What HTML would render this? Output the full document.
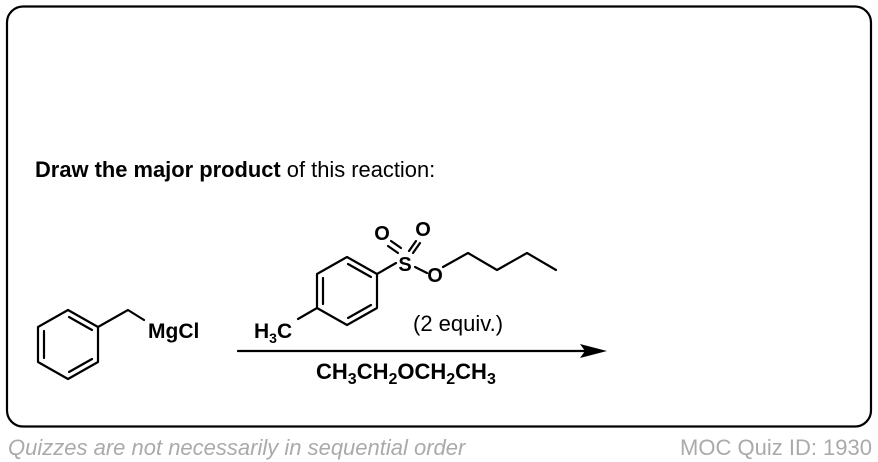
<!DOCTYPE html>
<html><head><meta charset="utf-8"><style>
html,body{margin:0;padding:0;background:#fff;width:878px;height:462px;overflow:hidden}
svg{display:block}
text{font-family:"Liberation Sans",Arial,sans-serif}
</style></head><body>
<svg width="878" height="462" viewBox="0 0 878 462">
<rect x="7" y="6.5" width="864" height="420" rx="16" fill="none" stroke="#000" stroke-width="2.2"/>
<text x="35" y="177" font-size="21.9"><tspan font-weight="bold">Draw the major product</tspan> of this reaction:</text>
<g stroke="#000" stroke-width="2.2" fill="none" stroke-linejoin="round" stroke-linecap="round">
<polygon points="68,310 98,327 98,362 68,379 38,362 38,327"/>
<line x1="44" y1="331" x2="44" y2="358"/>
<line x1="69" y1="317" x2="92" y2="330"/>
<line x1="69" y1="372" x2="92" y2="359"/>
<polyline points="98,327 128,310 144,320"/>
<polygon points="347,257 377,274 377,308 347,325 317,308 317,274"/>
<line x1="323" y1="278" x2="323" y2="304"/>
<line x1="348" y1="264" x2="371" y2="277"/>
<line x1="348" y1="318" x2="371" y2="305"/>
<line x1="317" y1="308" x2="298" y2="319"/>
<line x1="377" y1="274" x2="396" y2="263"/>
<line x1="388" y1="246" x2="398" y2="253"/>
<line x1="391" y1="241" x2="401" y2="248"/>
<line x1="409" y1="251" x2="416" y2="241"/>
<line x1="413" y1="253" x2="420" y2="243"/>
<line x1="415" y1="267" x2="427" y2="273"/>
<polyline points="443,267 468,253 497,270 527,253 556,270"/>
<line x1="238" y1="351" x2="585" y2="351"/>
</g>
<polygon points="607,351 580,344 585,351 580,358" fill="#000"/>
<text x="148" y="338" font-size="21" font-weight="bold">MgCl</text>
<text x="254" y="338" font-size="21" font-weight="bold">H<tspan font-size="14" dy="5">3</tspan><tspan dy="-5">C</tspan></text>
<text x="405" y="271" font-size="20" font-weight="bold" text-anchor="middle">S</text>
<text x="382" y="240" font-size="20" font-weight="bold" text-anchor="middle">O</text>
<text x="423" y="236" font-size="20" font-weight="bold" text-anchor="middle">O</text>
<text x="435" y="282" font-size="20" font-weight="bold" text-anchor="middle">O</text>
<text x="413" y="331" font-size="22">(2 equiv.)</text>
<text x="316" y="379" font-size="22" font-weight="bold">CH<tspan font-size="16" dy="5">3</tspan><tspan dy="-5">CH</tspan><tspan font-size="16" dy="5">2</tspan><tspan dy="-5">OCH</tspan><tspan font-size="16" dy="5">2</tspan><tspan dy="-5">CH</tspan><tspan font-size="16" dy="5">3</tspan></text>
<text x="8" y="455" font-size="22" font-style="italic" fill="#aaa">Quizzes are not necessarily in sequential order</text>
<text x="872" y="455" font-size="22" fill="#aaa" text-anchor="end">MOC Quiz ID: 1930</text>
</svg>
</body></html>
